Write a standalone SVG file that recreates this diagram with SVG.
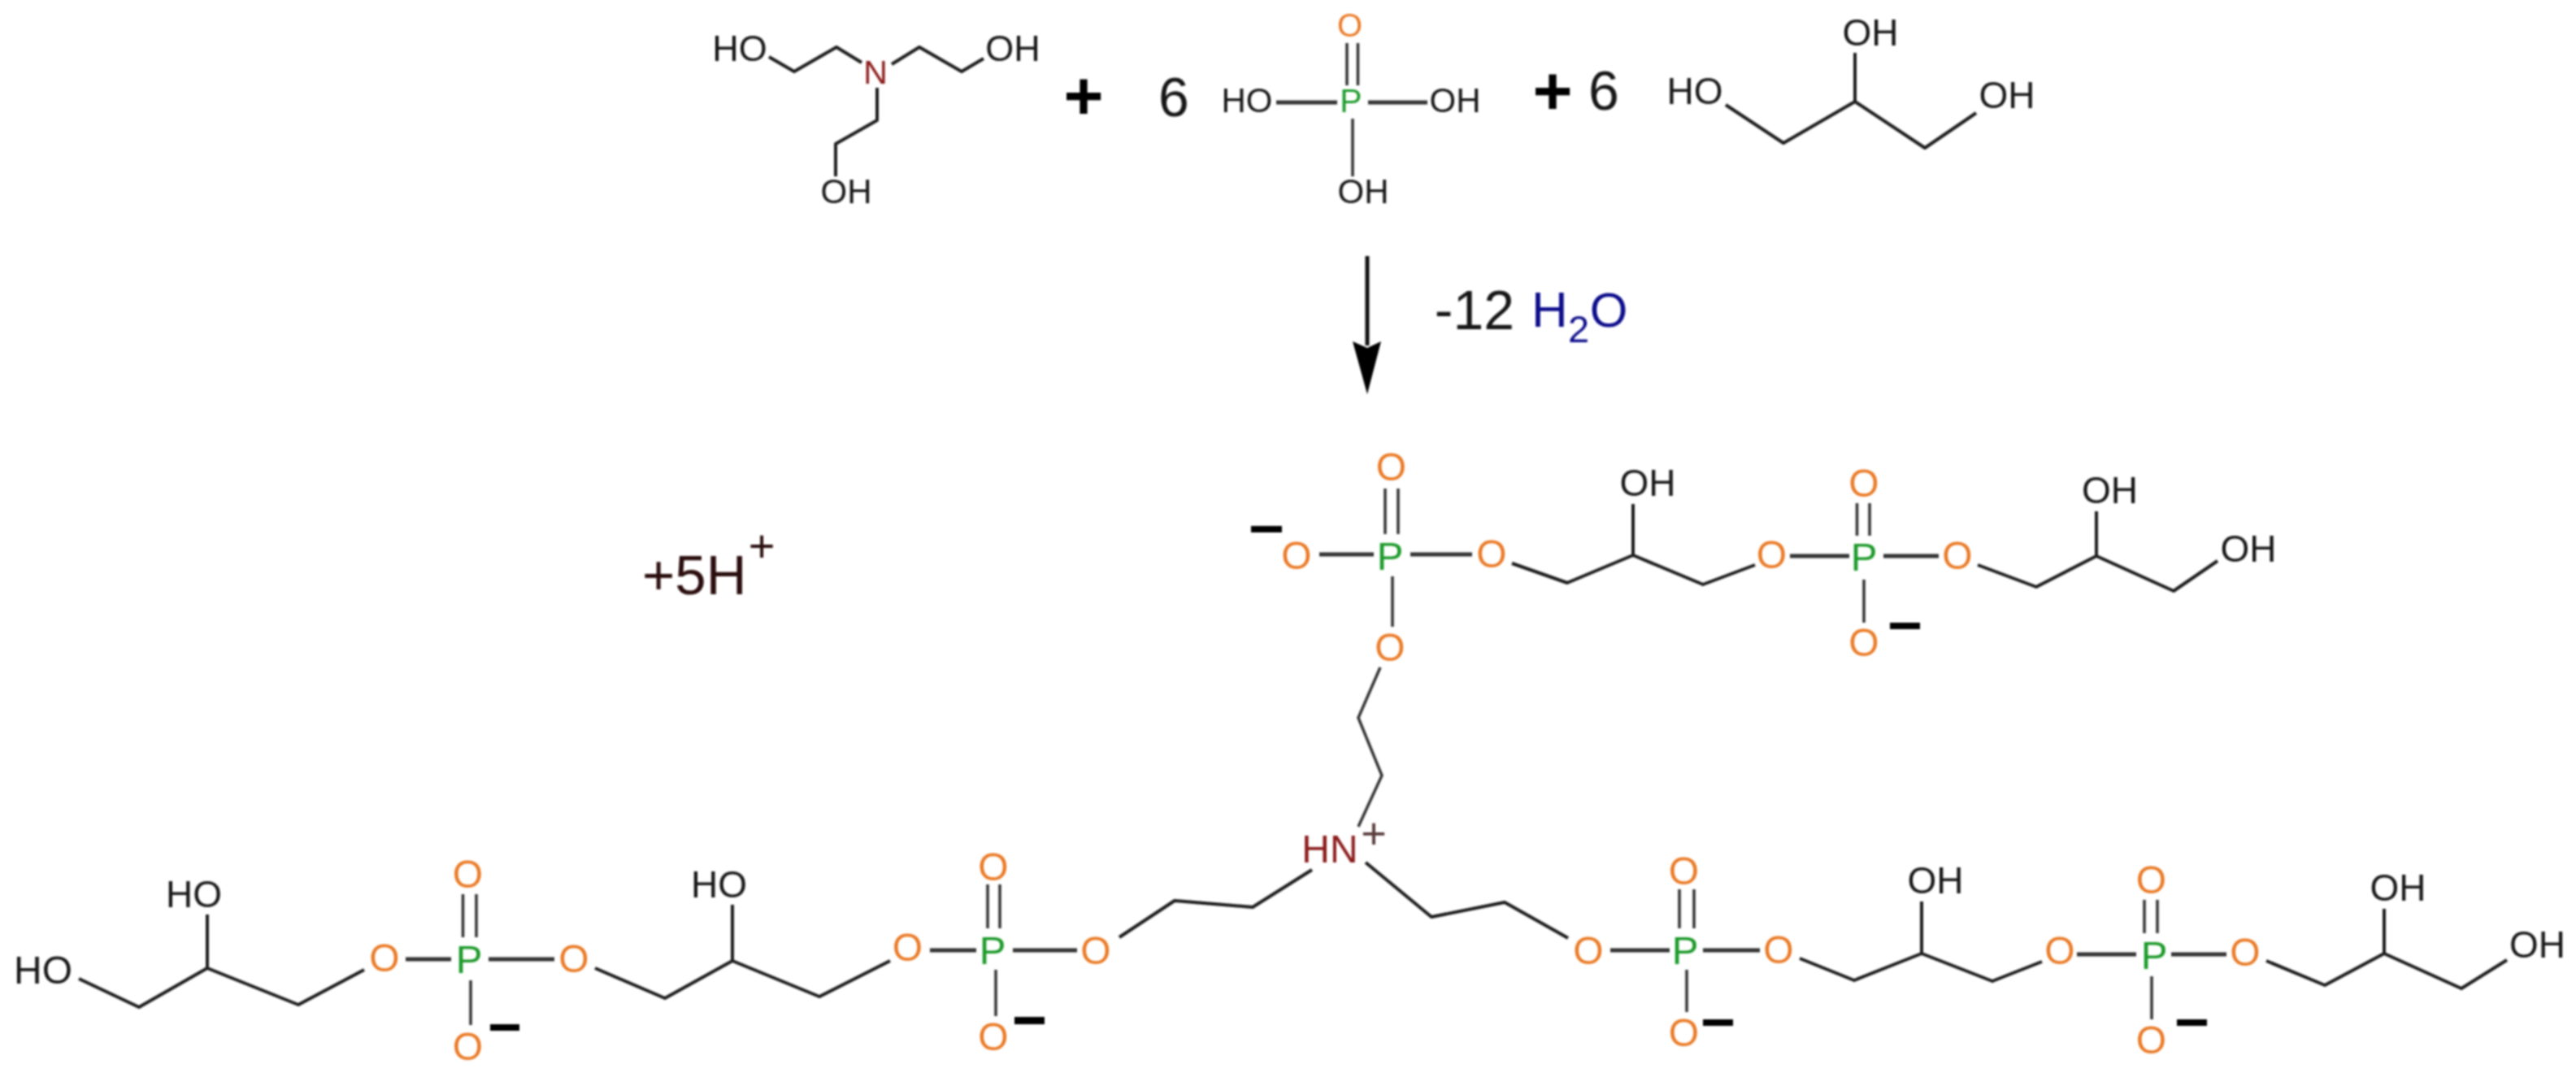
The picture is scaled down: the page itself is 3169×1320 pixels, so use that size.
<svg xmlns="http://www.w3.org/2000/svg" width="3169" height="1320" viewBox="0 0 3169 1320">
<defs><style>
text{font-family:"Liberation Sans",Arial,sans-serif;text-anchor:middle;fill:#161616}
.b{fill:none;stroke:#1c1c1c;stroke-width:4;stroke-linejoin:round}
.h{fill:none;stroke:#333;stroke-width:5}
.s{fill:none;stroke:#333;stroke-width:3.500}
.a{font-size:46px}
.k{font-size:42px}
.o{font-size:48px;fill:#ea7a28}
.p{font-size:49px;fill:#1f9a2c}
.m{fill:#000}
.big{font-size:68px}
.plus{font-size:84px;font-weight:bold;fill:#000}
</style>
<filter id="soft" x="0" y="0" width="100%" height="100%"><feGaussianBlur stdDeviation="0.8"/></filter>
</defs>
<rect width="3169" height="1320" fill="#fff"/>
<g filter="url(#soft)">
<g id="bonds">
<path class="b" d="M946 70L977 88L1029 58L1060 77M1097 79L1131 58L1183 88L1210 72M1079 108V148L1028 177V217"/>
<path class="h" d="M1570 126H1645M1683 126H1756"/>
<path class="s" d="M1657 53V105M1670.500 53V105M1664 146V217"/>
<path class="b" d="M2123 129L2194 176L2282 125L2368 182L2431 139M2282 65V125"/>
<path class="h" d="M1623 682H1690M1735 682H1811M2202 684H2275M2317 684H2385"/>
<path class="s" d="M1704 601V657M1720 601V657M1713 709V771M2284.500 619V659M2300 619V659M2293 713V766"/>
<path class="b" d="M1860 693L1928 717L2009 683L2095 719L2159 695M2009 620V683M2433 695L2505 722L2579 684L2674 727L2728 690M2579 629V684"/>
<path class="s" d="M1698 821L1671 883L1700 954L1671 1017"/>
<path class="b" d="M97 1204L171 1239L255 1191L367 1236L448 1193M255 1125V1191M732 1191L818 1228L901 1182L1008 1226L1095 1182M901 1113V1182"/>
<path class="h" d="M499 1180H555M601 1180H682M1144 1169H1201M1246 1169H1325M1981 1169H2054M2095 1169H2165M2555 1174H2628M2671 1174H2739"/>
<path class="s" d="M569.500 1100V1153M586 1100V1153M579 1206V1261M1215 1088V1142M1230 1088V1142M1225 1193V1250M2066 1094V1142M2084 1094V1142M2075 1193V1245M2638 1107V1148M2654 1107V1148M2647 1201V1254"/>
<path class="b" d="M1377 1153L1445 1108L1541 1116L1614 1070M1680 1061L1761 1128L1851 1110L1929 1154M2214 1179L2281 1206L2364 1173L2451 1207L2512 1183M2364 1109V1173M2788 1182L2860 1212L2933 1173L3028 1216L3084 1181M2933 1118V1173"/>
</g>
<g id="reaction-arrow">
<path d="M1682 315V425" fill="none" stroke="#111" stroke-width="5"/>
<path d="M1682 485L1664 420L1682 428L1699 420Z" fill="#000"/>
</g>
<g id="triethanolamine">
<text class="k" x="910" y="75" style="font-size:45px">HO</text>
<text x="1077" y="103" style="font-size:41px;fill:#8b1a1a">N</text>
<text class="k" x="1246" y="75" style="font-size:45px">OH</text>
<text class="k" x="1041" y="250">OH</text>
</g>
<g id="plus-1"><text class="plus" x="1333" y="147">+</text></g>
<text id="coef-1" class="big" x="1444" y="143">6</text>
<g id="phosphoric-acid">
<text class="o" x="1660.500" y="45" style="font-size:40px">O</text>
<text class="k" x="1534" y="138">HO</text>
<text class="p" x="1662" y="138" style="font-size:41px">P</text>
<text class="k" x="1790" y="138">OH</text>
<text class="k" x="1677" y="250">OH</text>
</g>
<g id="plus-2"><text class="plus" x="1910" y="141">+</text></g>
<text id="coef-2" class="big" x="1973" y="135">6</text>
<g id="glycerol">
<text class="a" x="2085" y="128">HO</text>
<text class="a" x="2301" y="56">OH</text>
<text class="a" x="2469" y="133">OH</text>
</g>
<g id="water-loss">
<text class="big" x="1814" y="405">-12</text>
<text x="1884" y="402" style="font-size:62px;fill:#10108c;text-anchor:start">H</text>
<text x="1942" y="421" style="font-size:47px;fill:#10108c">2</text>
<text x="1979" y="402" style="font-size:60px;fill:#10108c">O</text>
</g>
<g id="protons">
<text x="790" y="731" style="font-size:69px;fill:#2a0a0a;text-anchor:start">+5H</text>
<text x="937" y="691" style="font-size:56px;fill:#2a0a0a">+</text>
</g>
<g id="upper-arm">
<rect class="m" x="1539" y="647" width="38" height="8"/>
<text class="o" x="1595" y="700">O</text>
<text class="p" x="1710" y="701">P</text>
<text class="o" x="1835" y="698">O</text>
<text class="o" x="1711.500" y="591">O</text>
<text class="o" x="1710" y="813">O</text>
<text class="a" x="2027" y="610">OH</text>
<text class="o" x="2179.500" y="699">O</text>
<text class="p" x="2293" y="702">P</text>
<text class="o" x="2293" y="611">O</text>
<text class="o" x="2293" y="807">O</text>
<rect class="m" x="2325" y="766" width="37" height="8"/>
<text class="o" x="2408" y="700">O</text>
<text class="a" x="2595.500" y="619">OH</text>
<text class="a" x="2766" y="691">OH</text>
</g>
<g id="left-arm">
<text class="a" x="53" y="1210" style="font-size:48px">HO</text>
<text class="a" x="238.500" y="1116">HO</text>
<text class="o" x="473" y="1195">O</text>
<text class="p" x="577" y="1197">P</text>
<text class="o" x="575.500" y="1092">O</text>
<text class="o" x="575.500" y="1304">O</text>
<rect class="m" x="603" y="1260" width="36" height="8"/>
<text class="o" x="706" y="1196">O</text>
<text class="a" x="884.500" y="1104">HO</text>
<text class="o" x="1116.500" y="1182">O</text>
<text class="p" x="1221" y="1186">P</text>
<text class="o" x="1222" y="1083">O</text>
<text class="o" x="1222" y="1292">O</text>
<rect class="m" x="1248" y="1251" width="37" height="9"/>
<text class="o" x="1348" y="1186">O</text>
</g>
<g id="amine-centre">
<text x="1636" y="1061" style="font-size:48px;fill:#8b1a1a">HN</text>
<text x="1690" y="1044" style="font-size:54px;fill:#5a3a3a">+</text>
</g>
<g id="right-arm">
<text class="o" x="1954" y="1186">O</text>
<text class="p" x="2073" y="1186">P</text>
<text class="o" x="2071.500" y="1088">O</text>
<text class="o" x="2071.500" y="1287">O</text>
<rect class="m" x="2095" y="1254" width="37" height="8"/>
<text class="o" x="2188" y="1185">O</text>
<text class="a" x="2381" y="1099">OH</text>
<text class="o" x="2534" y="1186">O</text>
<text class="p" x="2650" y="1192">P</text>
<text class="o" x="2646.500" y="1099">O</text>
<text class="o" x="2646.500" y="1296">O</text>
<rect class="m" x="2678" y="1254" width="37" height="8"/>
<text class="o" x="2762" y="1188">O</text>
<text class="a" x="2950" y="1108">OH</text>
<text class="a" x="3121.500" y="1178">OH</text>
</g>
</g>
</svg>
